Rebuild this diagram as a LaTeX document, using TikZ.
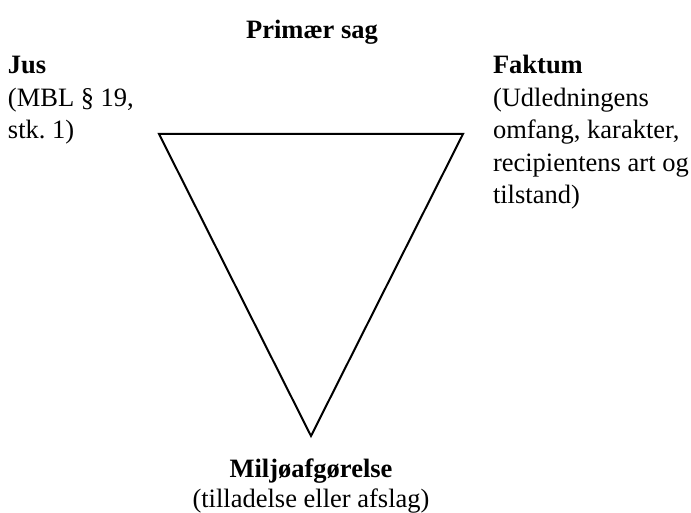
\documentclass[tikz,border=0pt]{standalone}
\usepackage{fontspec}
\setmainfont{Liberation Serif}
\begin{document}
\begin{tikzpicture}[x=1pt,y=-1pt,
  lbl/.style={inner sep=0pt,outer sep=0pt,font=\fontsize{26.5}{32}\selectfont},
  edge/.style={line width=2pt,line join=miter}]
\useasboundingbox (0,0) rectangle (691,513);
\coordinate (tl) at (159,134);
\coordinate (tr) at (463,134);
\coordinate (bt) at (311,436);
\draw[edge] (tl) -- (tr) -- (bt) -- cycle;
\node[lbl,anchor=base] (top) at (312,39) {\textbf{Primær sag}};
\node[lbl,anchor=base west] (jus) at (8,74) {\textbf{Jus}};
\node[lbl,anchor=base west] (jus2) at (8,107) {(MBL § 19,};
\node[lbl,anchor=base west] (jus3) at (8,139) {stk.\ 1)};
\node[lbl,anchor=base west] (f1) at (493,74) {\textbf{Faktum}};
\node[lbl,anchor=base west] (f2) at (493,107) {(Udledningens};
\node[lbl,anchor=base west] (f3) at (493,139) {omfang, karakter,};
\node[lbl,anchor=base west] (f4) at (493,172) {recipientens art og};
\node[lbl,anchor=base west] (f5) at (493,204) {tilstand)};
\node[lbl,anchor=base] (m1) at (311,477) {\textbf{Miljøafgørelse}};
\node[lbl,anchor=base] (m2) at (311,507) {(tilladelse eller afslag)};
\end{tikzpicture}
\end{document}
